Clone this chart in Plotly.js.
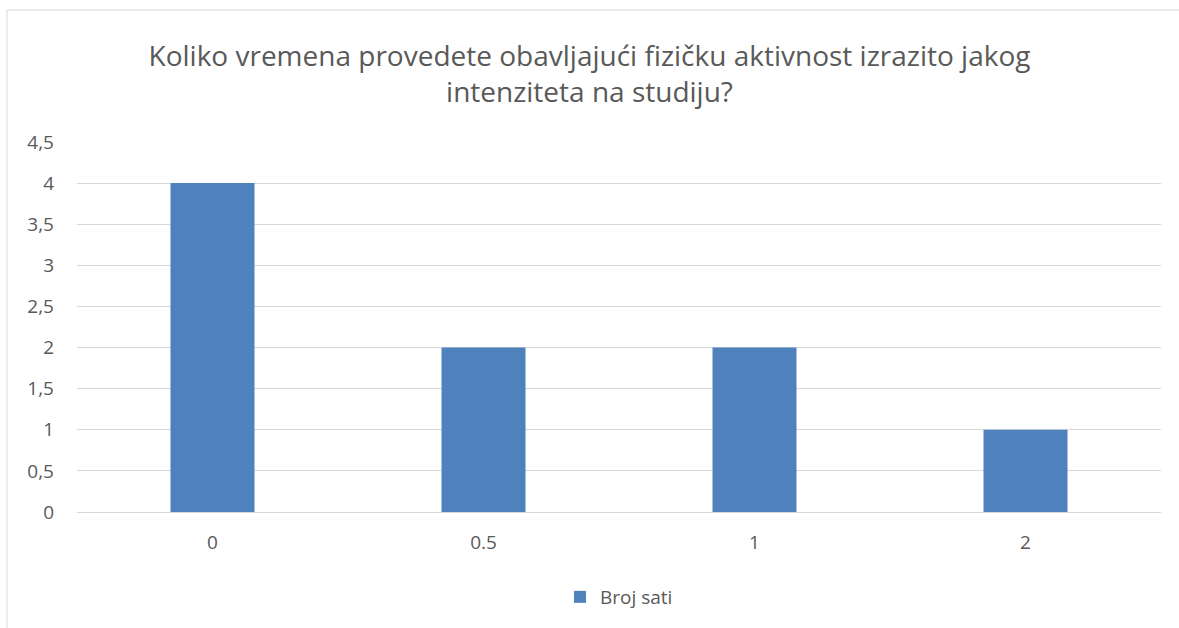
<!DOCTYPE html>
<html>
<head>
<meta charset="utf-8">
<script src="https://cdn.plot.ly/plotly-3.0.1.min.js"></script>
<style>html,body{margin:0;padding:0;background:#fff;}#chart{width:1179px;height:628px;}</style>
</head>
<body>
<div id="chart"></div>
<script>
const categories = ["0", "0.5", "1", "2"];
const values = [4, 2, 2, 1];
const seriesName = "Broj sati";
const titleText = "Koliko vremena provedete obavljajući fizičku aktivnost izrazito jakog<br>intenziteta na studiju?";

const W = 1179, H = 628;
const m = {l: 77, r: 18, t: 142, b: 116};
const pw = W - m.l - m.r, ph = H - m.t - m.b;
const font = "Open Sans, Liberation Sans, sans-serif";

const trace = {
  type: "bar",
  x: categories,
  y: values,
  name: seriesName,
  marker: {color: "#4F81BD"},
  showlegend: true
};

const layout = {
  width: W, height: H,
  margin: m,
  separators: ", ",
  paper_bgcolor: "#fff",
  plot_bgcolor: "#fff",
  font: {family: font, color: "#595959", size: 19},
  title: {
    text: titleText,
    font: {family: font, size: 28, color: "#595959"},
    x: 0.5, xanchor: "center",
    y: 1 - 66 / H, yanchor: "middle", yref: "container"
  },
  bargap: 0.69,
  xaxis: {
    type: "category",
    showgrid: false,
    showline: false,
    ticks: "",
    ticklabelstandoff: 17,
    tickfont: {size: 19, color: "#595959"},
    zeroline: false
  },
  yaxis: {
    range: [0, 4.5],
    dtick: 0.5,
    tick0: 0,
    showgrid: true,
    gridcolor: "#d9d9d9",
    gridwidth: 1,
    zeroline: true,
    zerolinecolor: "#d9d9d9",
    zerolinewidth: 1,
    showline: false,
    ticks: "",
    ticklen: 0,
    ticklabelstandoff: 22,
    tickfont: {size: 19, color: "#595959"}
  },
  legend: {
    orientation: "h",
    x: 0.5, xanchor: "center",
    y: (m.t + ph - 597) / ph, yanchor: "middle",
    font: {size: 19, color: "#595959"}
  },
  shapes: [{
    type: "rect",
    xref: "paper", yref: "paper",
    x0: (7 - m.l) / pw, x1: (W + 5 - m.l) / pw,
    y0: (m.t + ph - (H + 5)) / ph, y1: (m.t + ph - 10) / ph,
    line: {color: "#d9d9d9", width: 1},
    fillcolor: "rgba(0,0,0,0)",
    layer: "below"
  }]
};

Plotly.newPlot("chart", [trace], layout, {displayModeBar: false, staticPlot: true});
</script>
</body>
</html>
